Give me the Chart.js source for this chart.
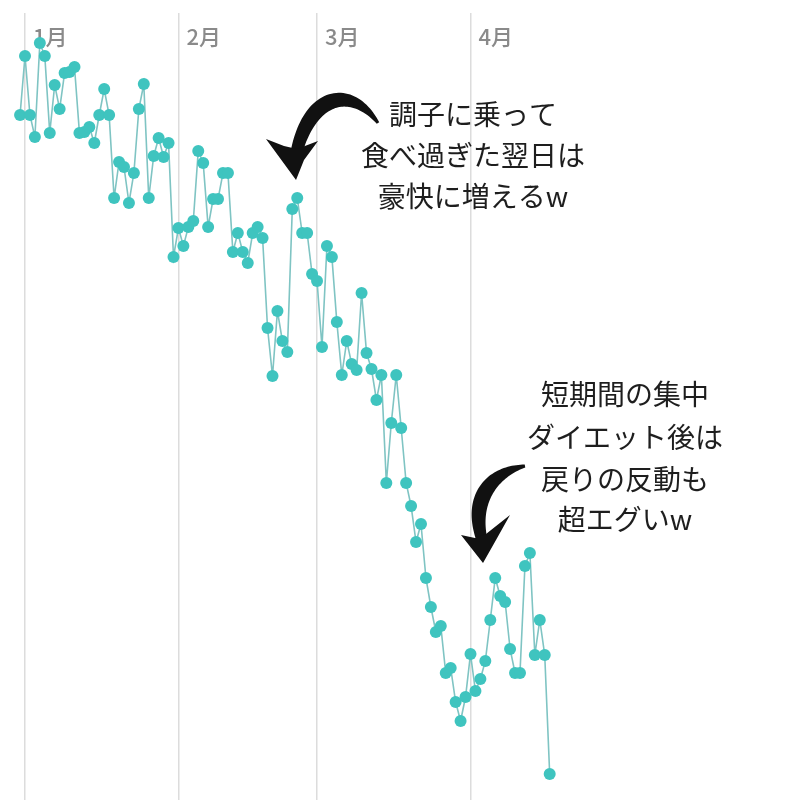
<!DOCTYPE html>
<html>
<head>
<meta charset="utf-8">
<script src="https://cdn.jsdelivr.net/npm/chart.js@4/dist/chart.umd.min.js"></script>
<style>
  html, body { margin: 0; padding: 0; background: #ffffff; }
  #wrap { width: 800px; height: 800px; position: relative; }
</style>
</head>
<body>
<div id="wrap"><canvas id="c" width="800" height="800"></canvas></div>
<script>
// ---- data ----
const monthLabels = ['1月', '2月', '3月', '4月'];
const monthStartDays = [0, 31, 59, 90];          // day index of each month start (Jan 1 = 0)
const firstDay = -1;                              // first measurement: Dec 31
const weights = [
  56.85, 57.44, 56.85, 56.63, 57.57, 57.44, 56.67, 57.15, 56.91, 57.27,
  57.28, 57.33, 56.67, 56.68, 56.73, 56.57, 56.85, 57.11, 56.85, 56.02,
  56.38, 56.33, 55.97, 56.27, 56.91, 57.16, 56.02, 56.44, 56.62, 56.43,
  56.57, 55.43, 55.72, 55.54, 55.73, 55.79, 56.49, 56.37, 55.73, 56.01,
  56.01, 56.27, 56.27, 55.48, 55.67, 55.48, 55.37, 55.67, 55.73, 55.62,
  54.72, 54.24, 54.89, 54.59, 54.48, 55.91, 56.02, 55.67, 55.67, 55.26,
  55.19, 54.53, 55.54, 55.43, 54.78, 54.25, 54.59, 54.36, 54.30, 55.07,
  54.47, 54.31, 54.00, 54.25, 53.17, 53.77, 54.25, 53.72, 53.17, 52.94,
  52.58, 52.76, 52.22, 51.93, 51.68, 51.74, 51.27, 51.32, 50.98, 50.79,
  51.03, 51.46, 51.09, 51.21, 51.39, 51.80, 52.22, 52.04, 51.98, 51.51,
  51.27, 51.27, 52.34, 52.47, 51.45, 51.80, 51.45, 50.26
];
const note1 = ['調子に乗って', '食べ過ぎた翌日は', '豪快に増えるw'];
const note2 = ['短期間の集中', 'ダイエット後は', '戻りの反動も', '超エグいw'];

const points = weights.map((w, i) => ({ x: firstDay + i, y: w }));

// ---- helpers for hand-drawn style arrows ----
function bez(p0, p1, p2, p3, t) {
  const u = 1 - t;
  return [
    u*u*u*p0[0] + 3*u*u*t*p1[0] + 3*u*t*t*p2[0] + t*t*t*p3[0],
    u*u*u*p0[1] + 3*u*u*t*p1[1] + 3*u*t*t*p2[1] + t*t*t*p3[1]
  ];
}
function brush(ctx, p0, p1, p2, p3, w0, wMid, w1) {
  const N = 48, L = [], R = [];
  for (let i = 0; i <= N; i++) {
    const t = i / N;
    const a = bez(p0, p1, p2, p3, Math.max(0, t - 0.01));
    const b = bez(p0, p1, p2, p3, Math.min(1, t + 0.01));
    const p = bez(p0, p1, p2, p3, t);
    let dx = b[0] - a[0], dy = b[1] - a[1];
    const len = Math.hypot(dx, dy) || 1;
    const nx = -dy / len, ny = dx / len;
    const w = w0 * (1 - t) + w1 * t + (wMid - (w0 + w1) / 2) * Math.sin(Math.PI * t);
    L.push([p[0] + nx * w / 2, p[1] + ny * w / 2]);
    R.push([p[0] - nx * w / 2, p[1] - ny * w / 2]);
  }
  ctx.beginPath();
  ctx.moveTo(L[0][0], L[0][1]);
  for (const q of L) ctx.lineTo(q[0], q[1]);
  for (let i = R.length - 1; i >= 0; i--) ctx.lineTo(R[i][0], R[i][1]);
  ctx.closePath();
  ctx.fill();
}
function head(ctx, pts) {
  ctx.beginPath();
  ctx.moveTo(pts[0][0], pts[0][1]);
  for (let i = 1; i < pts.length; i++) ctx.lineTo(pts[i][0], pts[i][1]);
  ctx.closePath();
  ctx.fill();
}

const monthLabelPlugin = {
  id: 'monthLabels',
  beforeDatasetsDraw(chart) {
    const ctx = chart.ctx, xs = chart.scales.x;
    ctx.save();
    ctx.font = '500 22px "Noto Sans CJK JP", "Noto Sans", sans-serif';
    ctx.fillStyle = '#8a8a8a';
    ctx.textAlign = 'left';
    ctx.textBaseline = 'middle';
    monthStartDays.forEach((d, i) => {
      ctx.fillText(monthLabels[i], xs.getPixelForValue(d) + 8, 37);
    });
    ctx.restore();
  }
};

const notePlugin = {
  id: 'notes',
  afterDraw(chart) {
    const ctx = chart.ctx;
    ctx.save();
    ctx.fillStyle = '#1e1e1e';
    ctx.font = '400 28px "Noto Sans CJK JP", sans-serif';
    ctx.textAlign = 'center';
    ctx.textBaseline = 'middle';
    const y1 = [114, 155, 196];
    note1.forEach((t, i) => ctx.fillText(t, 473, y1[i]));
    const y2 = [394, 437, 479, 519];
    note2.forEach((t, i) => ctx.fillText(t, 625, y2[i]));

    ctx.fillStyle = '#111111';
    // arrow 1
    brush(ctx, [378, 123], [352, 86], [312, 92], [297, 150], 3, 15, 12);
    head(ctx, [[266, 139], [284, 146], [297, 149], [318, 141], [304, 160], [296, 180]]);
    // arrow 2
    brush(ctx, [525, 466], [492, 472], [470, 498], [482, 540], 3, 15, 11);
    head(ctx, [[461, 535], [475, 538], [486, 534], [510, 515], [496, 540], [483, 563]]);
    ctx.restore();
  }
};

new Chart(document.getElementById('c'), {
  type: 'line',
  data: {
    datasets: [{
      data: points,
      borderColor: '#7fc4c3',
      borderWidth: 1.6,
      backgroundColor: '#3fc4bf',
      pointBackgroundColor: '#3fc4bf',
      pointBorderColor: '#3fc4bf',
      pointBorderWidth: 0,
      pointRadius: 6,
      tension: 0,
      fill: false,
      clip: false
    }]
  },
  options: {
    responsive: false,
    animation: false,
    events: [],
    layout: { autoPadding: false, padding: { top: 13, left: 0, right: 0, bottom: 0 } },
    plugins: { legend: { display: false }, tooltip: { enabled: false } },
    scales: {
      x: {
        type: 'linear',
        min: -5.05,
        max: 156.57,
        afterBuildTicks: (s) => { s.ticks = monthStartDays.map(v => ({ value: v })); },
        grid: { color: '#dcdcdc', lineWidth: 1.5, drawTicks: false },
        border: { display: false },
        ticks: { display: false }
      },
      y: {
        display: false,
        min: 50.0,
        max: 57.87
      }
    }
  },
  plugins: [monthLabelPlugin, notePlugin]
});
</script>
</body>
</html>
